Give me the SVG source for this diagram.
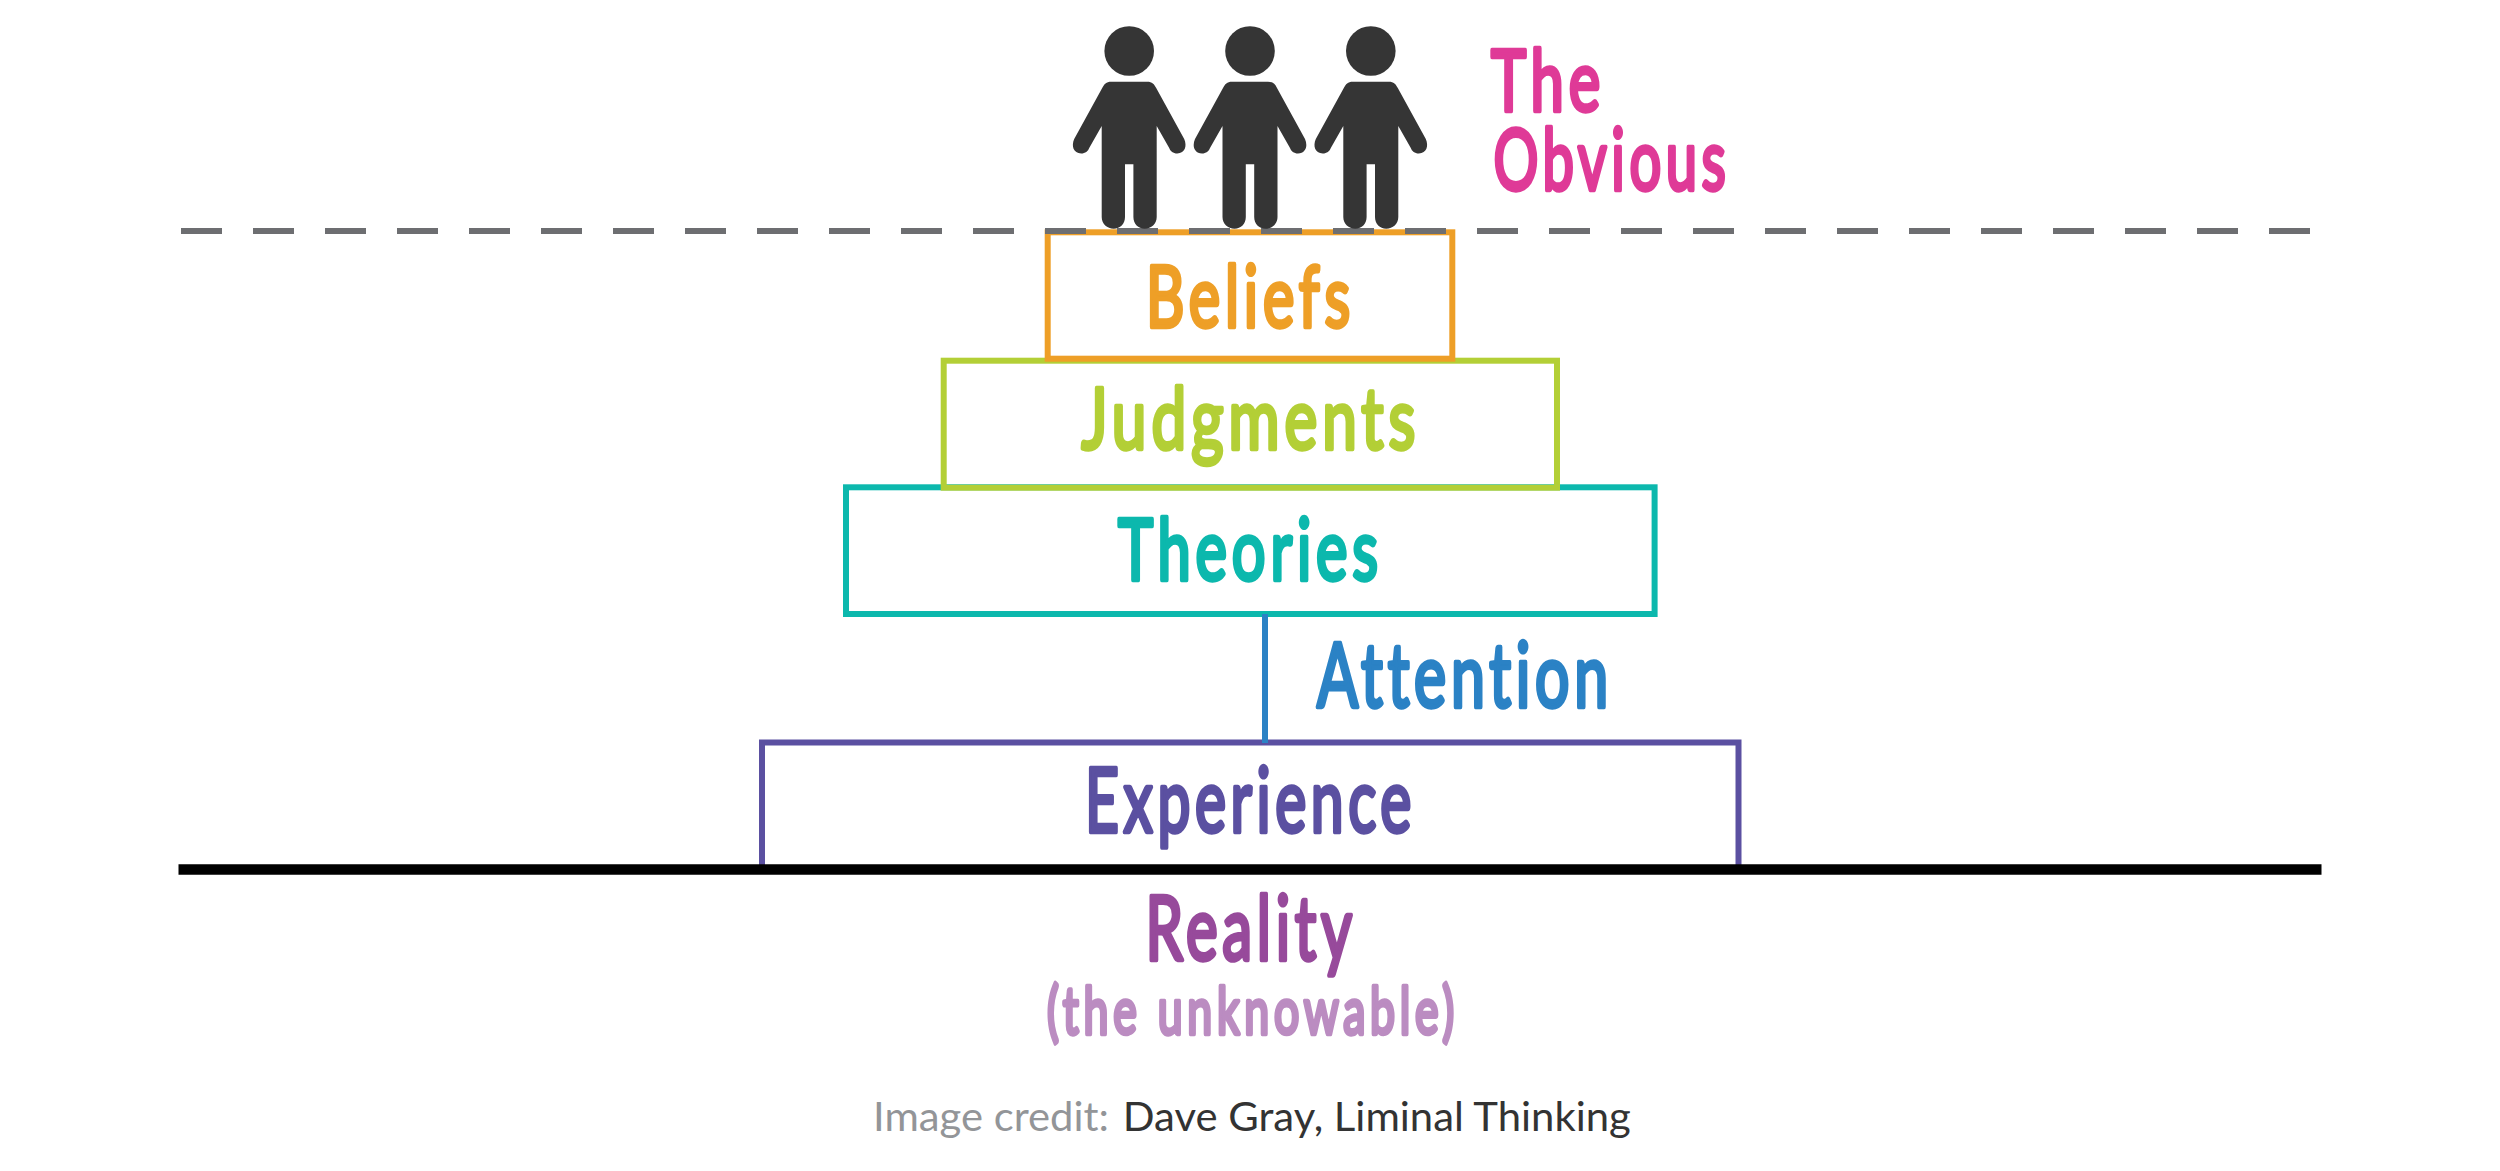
<svg xmlns="http://www.w3.org/2000/svg" xmlns:xlink="http://www.w3.org/1999/xlink" width="2500" height="1171" viewBox="0 0 2500 1171">
<style>
.hand{font-family:"Lato","Open Sans",sans-serif;font-weight:400;stroke-width:4.5;stroke-linejoin:round;stroke-linecap:round;letter-spacing:7px}
.box{fill:none;stroke-width:6}
.credit{font-family:"Lato","Noto Sans",sans-serif;font-size:41px}
</style>
<defs>
<g id="person">
<circle cx="0" cy="51" r="24.8"/>
<path d="M-18 81.7H18C23 81.7 25 84 27 88L55 139C58 146 56 153 48 153.5C44 153.5 41 151 40 148L27.5 126V217C27.5 224 22 228.7 15.5 228.7C9 228.7 4.2 224 4.2 217V164.3H-4.2V217C-4.2 224 -9 228.7 -15.5 228.7C-22 228.7 -27.5 224 -27.5 217V126L-40 148C-41 151 -44 153.5 -48 153.5C-56 153 -58 146 -55 139L-27 88C-25 84 -23 81.7 -18 81.7Z"/>
</g>
</defs>
<rect width="2500" height="1171" fill="#fff"/>
<g id="experience">
<rect class="box" x="762" y="742.5" width="976.5" height="127" stroke="#5b50a1"/>
<text class="hand" x="1085" y="832" font-size="90" textLength="331" lengthAdjust="spacingAndGlyphs" fill="#5b50a1" stroke="#5b50a1">Experience</text>
</g>
<g id="theories">
<rect class="box" x="846" y="487.3" width="808.6" height="126.7" stroke="#0cb8ad"/>
<text class="hand" x="1118" y="580" font-size="86" textLength="265" lengthAdjust="spacingAndGlyphs" fill="#0cb8ad" stroke="#0cb8ad">Theories</text>
</g>
<g id="judgments">
<rect class="box" x="943.7" y="360.7" width="613.3" height="127" stroke="#b3cf36"/>
<text class="hand" x="1081.5" y="449" font-size="86" textLength="339" lengthAdjust="spacingAndGlyphs" fill="#b3cf36" stroke="#b3cf36">Judgments</text>
</g>
<g id="beliefs">
<rect class="box" x="1047.7" y="232.3" width="404.6" height="126.4" stroke="#ee9f27"/>
<text class="hand" x="1146" y="327" font-size="86" textLength="209" lengthAdjust="spacingAndGlyphs" fill="#ee9f27" stroke="#ee9f27">Beliefs</text>
</g>
<g id="connectors">
<line id="attention-line" x1="1265" y1="614" x2="1265" y2="743" stroke="#2b82c5" stroke-width="6"/>
<line id="obvious-line" x1="181" y1="231" x2="2310" y2="231" stroke="#6d6e71" stroke-width="6" stroke-dasharray="41 31"/>
<line id="reality-line" x1="178.5" y1="869.5" x2="2321.5" y2="869.5" stroke="#000" stroke-width="10.5"/>
</g>
<g id="people" fill="#353535">
<use id="person-1" xlink:href="#person" href="#person" x="1129.2"/>
<use id="person-2" xlink:href="#person" href="#person" x="1250"/>
<use id="person-3" xlink:href="#person" href="#person" x="1370.8"/>
</g>
<g id="the-obvious" fill="#df3a97" stroke="#df3a97">
<text class="hand" x="1491" y="111" font-size="86" textLength="114" lengthAdjust="spacingAndGlyphs">The</text>
<text class="hand" x="1493.5" y="190" font-size="86" textLength="237" lengthAdjust="spacingAndGlyphs">Obvious</text>
</g>
<g id="attention">
<text class="hand" x="1317" y="707" font-size="90" textLength="296" lengthAdjust="spacingAndGlyphs" fill="#2b82c5" stroke="#2b82c5">Attention</text>
</g>
<g id="reality">
<text class="hand" x="1145.6" y="960" font-size="90" textLength="211" lengthAdjust="spacingAndGlyphs" fill="#974a9b" stroke="#974a9b">Reality</text>
<text class="hand" x="1047" y="1034" font-size="66" textLength="412" lengthAdjust="spacingAndGlyphs" fill="#bb8cc1" stroke="#bb8cc1">(the unknowable)</text>
</g>
<g id="credit">
<text class="credit" x="873" y="1130.7" textLength="236" lengthAdjust="spacingAndGlyphs" fill="#939598">Image credit:</text>
<text class="credit" x="1122.8" y="1130.7" textLength="508" lengthAdjust="spacingAndGlyphs" fill="#333">Dave Gray, Liminal Thinking</text>
</g>
</svg>
